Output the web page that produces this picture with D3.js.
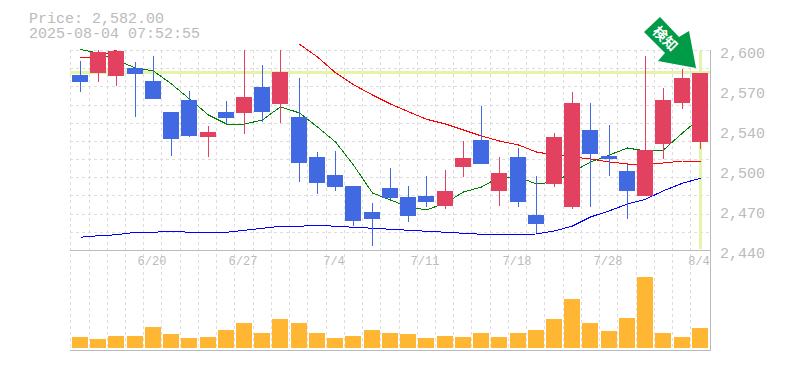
<!DOCTYPE html>
<html>
<head>
<meta charset="utf-8">
<script src="https://cdnjs.cloudflare.com/ajax/libs/d3/7.8.5/d3.min.js"></script>
<style>
  html, body { margin: 0; padding: 0; background: #fff; }
  svg { display: block; }
  text { fill: #bbb; font-family: "Liberation Mono", monospace; }
</style>
</head>
<body>
<div id="chart"></div>
<script>
const dates = ["6/16","6/17","6/18","6/19","6/20","6/23","6/24","6/25","6/26","6/27","6/30","7/1","7/2","7/3","7/4","7/7","7/8","7/9","7/10","7/11","7/14","7/15","7/16","7/17","7/18","7/22","7/23","7/24","7/25","7/28","7/29","7/30","7/31","8/1","8/4"];
const dateLabels = ["6/20","6/27","7/4","7/11","7/18","7/28","8/4"];
const priceLabels = [2600, 2570, 2540, 2500, 2470, 2440];

const opens = [2580,2581.6,2579.2,2585.6,2575.2,2550.4,2560,2530.4,2550.4,2549.6,2570.4,2556.8,2546.4,2514.4,2500,2491.2,2470.4,2489.6,2482.4,2483.2,2475.2,2506.4,2528,2487.2,2514.4,2468,2492.8,2474.4,2536,2515.2,2503.2,2483.2,2524.8,2557.6,2526.4];
const closes = [2574.4,2598.4,2599.2,2580.8,2560.8,2528.8,2531.2,2534.4,2545.6,2562.4,2550.4,2582.4,2509.6,2493.6,2490.4,2463.2,2464.8,2481.6,2467.2,2478.4,2487.2,2513.6,2508.8,2501.6,2478.4,2460.8,2530.4,2557.6,2516.8,2512.8,2487.2,2520,2560,2577.6,2582];
const highs = [2591.2,2604,2606,2590.4,2595.2,2550.4,2567.2,2539.2,2559.2,2620,2588,2610,2577.6,2518.4,2519.2,2491.2,2477.6,2505.6,2491.2,2499.2,2504,2527.2,2555.2,2514.4,2521.6,2499.2,2533.6,2566.4,2557.6,2540,2508,2595.2,2569.6,2584.8,2582];
const lows = [2566.4,2574.4,2571.2,2546.4,2560.8,2515.2,2530.4,2514.4,2540.8,2532.8,2542.4,2541.6,2494.4,2484.8,2487.2,2459.2,2443.2,2480.8,2462.4,2474.4,2472.8,2498.4,2508.8,2475.2,2474.4,2453.6,2490.4,2472.8,2474.4,2499.2,2464.8,2483.2,2512.8,2552.8,2520.8];

const maShort = [2600.4,2597.6,2592,2585.6,2583.2,2572.8,2560.8,2548,2540.8,2540.8,2544,2554.6,2549.6,2538.4,2526.4,2508,2485.6,2480,2474.4,2472,2477.6,2486.4,2490.4,2498.4,2498.4,2492.8,2494.4,2502.4,2510.4,2516,2521.6,2519.2,2520,2533.6,2545.6];
const maMid = [2593.6,2594.4,2600,null,null,null,null,null,null,null,null,null,2604.6,2594.4,2581.8,2572.2,2564,2556.8,2550.6,2544.6,2540.8,2536,2531.2,2527.2,2524,2518.4,2516,2514.4,2512.8,2510.4,2508.8,2508.8,2509.6,2511.2,2511.2];
const maLong = [2450.2,2451.4,2452.2,2454.2,2454.2,2455,2454.2,2454.2,2454.2,2455.8,2457.4,2459,2459,2459.8,2459,2458.2,2457.4,2456.6,2455.8,2455,2454.2,2453.4,2452.6,2452.6,2452.6,2452.8,2455.2,2459.2,2466.4,2471.4,2476.8,2480.6,2487.4,2493.4,2497.4];

const volumes = [110,90,120,120,210,140,100,110,180,250,150,290,250,150,100,120,180,150,140,100,120,110,150,110,150,180,290,490,250,170,300,710,150,110,200];

const lastPrice = 2582;
const priceText = "Price: 2,582.00";
const stampText = "2025-08-04 07:52:55";
const arrowText = "検知";

const width = 785, height = 370;
const plot = { left: 70.8, right: 709, top: 50, mid: 250, bottom: 350, volBase: 348, volTop: 277 };
const candleWidth = 16;
const upColor = "#e2415f", downColor = "#4169e1", volColor = "#ffb733", markColor = "#e4f5a9", gridColor = "#ddd", axisColor = "#bbb";

const svg = d3.select("#chart").append("svg")
  .attr("width", width)
  .attr("height", height)
  .attr("viewBox", `0 0 ${width} ${height}`);

const x = d3.scaleBand().domain(dates).range([plot.left, plot.right]);
const xc = (d) => Math.round(x(d) + x.bandwidth() / 2);
const y = d3.scaleLinear().domain([2440, 2600]).range([plot.mid, plot.top]);
const yVol = d3.scaleLinear().domain([0, d3.max(volumes)]).range([plot.volBase, plot.volTop]);

svg.append("clipPath").attr("id", "priceClip").append("rect")
  .attr("x", 70).attr("y", plot.top).attr("width", 640).attr("height", plot.mid - plot.top);

// grid
const grid = svg.append("g")
  .attr("stroke", gridColor)
  .attr("stroke-dasharray", "3,3")
  .attr("shape-rendering", "crispEdges");

grid.selectAll(".h")
  .data(d3.range(0, 11))
  .enter().append("line")
  .attr("x1", 70).attr("x2", plot.right + 1)
  .attr("y1", (k) => Math.round(y(2600 - (160 * k) / 11)) + 0.5)
  .attr("y2", (k) => Math.round(y(2600 - (160 * k) / 11)) + 0.5);

grid.selectAll(".v")
  .data(dates)
  .enter().append("line")
  .attr("x1", (d) => Math.round(x(d) - 0.5) + 0.5)
  .attr("x2", (d) => Math.round(x(d) - 0.5) + 0.5)
  .attr("y1", plot.top).attr("y2", plot.bottom);

// price marker lines
svg.append("line")
  .attr("x1", 70).attr("x2", plot.right + 1)
  .attr("y1", y(lastPrice)).attr("y2", y(lastPrice))
  .attr("stroke", markColor).attr("stroke-width", 3)
  .attr("shape-rendering", "crispEdges");
svg.append("line")
  .attr("x1", xc("8/4") + 0.5).attr("x2", xc("8/4") + 0.5)
  .attr("y1", plot.top + 1).attr("y2", plot.mid - 1)
  .attr("stroke", markColor).attr("stroke-width", 3)
  .attr("shape-rendering", "crispEdges");

// moving averages, under the candles
const maLine = d3.line()
  .defined((d) => d[1] !== null)
  .x((d) => xc(d[0]) + 0.5)
  .y((d) => y(d[1]));

[[maShort, "#008000"], [maMid, "#ff0000"], [maLong, "#0000ff"]].forEach(([values, color]) => {
  svg.append("path")
    .attr("d", maLine(values.map((v, i) => [dates[i], v])))
    .attr("fill", "none")
    .attr("stroke", color)
    .attr("stroke-width", 1)
    .attr("shape-rendering", "crispEdges");
});

// candles
const candles = svg.append("g").attr("shape-rendering", "crispEdges");
const candleColor = (i) => (closes[i] >= opens[i] ? upColor : downColor);

candles.selectAll(".wick")
  .data(dates)
  .enter().append("line")
  .attr("clip-path", "url(#priceClip)")
  .attr("x1", (d) => xc(d) + 0.5)
  .attr("x2", (d) => xc(d) + 0.5)
  .attr("y1", (d, i) => y(highs[i]))
  .attr("y2", (d, i) => y(lows[i]))
  .attr("stroke", (d, i) => candleColor(i));

candles.selectAll(".body")
  .data(dates)
  .enter().append("rect")
  .attr("x", (d) => xc(d) - candleWidth / 2)
  .attr("width", candleWidth)
  .attr("y", (d, i) => y(Math.max(opens[i], closes[i])))
  .attr("height", (d, i) => Math.abs(y(opens[i]) - y(closes[i])))
  .attr("fill", (d, i) => candleColor(i));

// volume
svg.append("g")
  .attr("shape-rendering", "crispEdges")
  .selectAll("rect")
  .data(dates)
  .enter().append("rect")
  .attr("x", (d) => xc(d) - candleWidth / 2)
  .attr("width", candleWidth)
  .attr("y", (d, i) => yVol(volumes[i]))
  .attr("height", (d, i) => plot.volBase - yVol(volumes[i]))
  .attr("fill", volColor);

// frame
const frame = svg.append("g").attr("stroke", axisColor).attr("shape-rendering", "crispEdges");
frame.append("line").attr("x1", 70).attr("x2", 711).attr("y1", plot.mid + 0.5).attr("y2", plot.mid + 0.5);
frame.append("line").attr("x1", 70).attr("x2", 711).attr("y1", plot.bottom + 0.5).attr("y2", plot.bottom + 0.5);
frame.append("line").attr("x1", 710.5).attr("x2", 710.5).attr("y1", plot.top).attr("y2", plot.bottom);

// labels
svg.selectAll(".price-label")
  .data(priceLabels)
  .enter().append("text")
  .attr("x", 720)
  .attr("y", (d, i) => 58 + i * 40)
  .attr("font-size", 15)
  .text((d) => d3.format(",")(d));

svg.selectAll(".date-label")
  .data(dateLabels)
  .enter().append("text")
  .attr("x", (d) => xc(d) - 1)
  .attr("y", 265)
  .attr("text-anchor", "middle")
  .attr("font-size", 12)
  .text((d) => d);

const title = svg.append("text").attr("font-size", 15);
title.append("tspan").attr("x", 29).attr("y", 23).text(priceText);
title.append("tspan").attr("x", 29).attr("y", 38).text(stampText);

// signal arrow
svg.append("path")
  .attr("d", "M660,17 L644,32 L665,53 L658,61 L696,68 L689,31 L679,37 Z")
  .attr("fill", "#009b47");
svg.append("text")
  .attr("transform", "translate(666,38) rotate(45)")
  .attr("text-anchor", "middle")
  .attr("dominant-baseline", "central")
  .attr("font-size", 14)
  .attr("font-weight", "bold")
  .style("font-family", "'Noto Sans CJK JP'")
  .style("fill", "#fff")
  .text(arrowText);
</script>
</body>
</html>
